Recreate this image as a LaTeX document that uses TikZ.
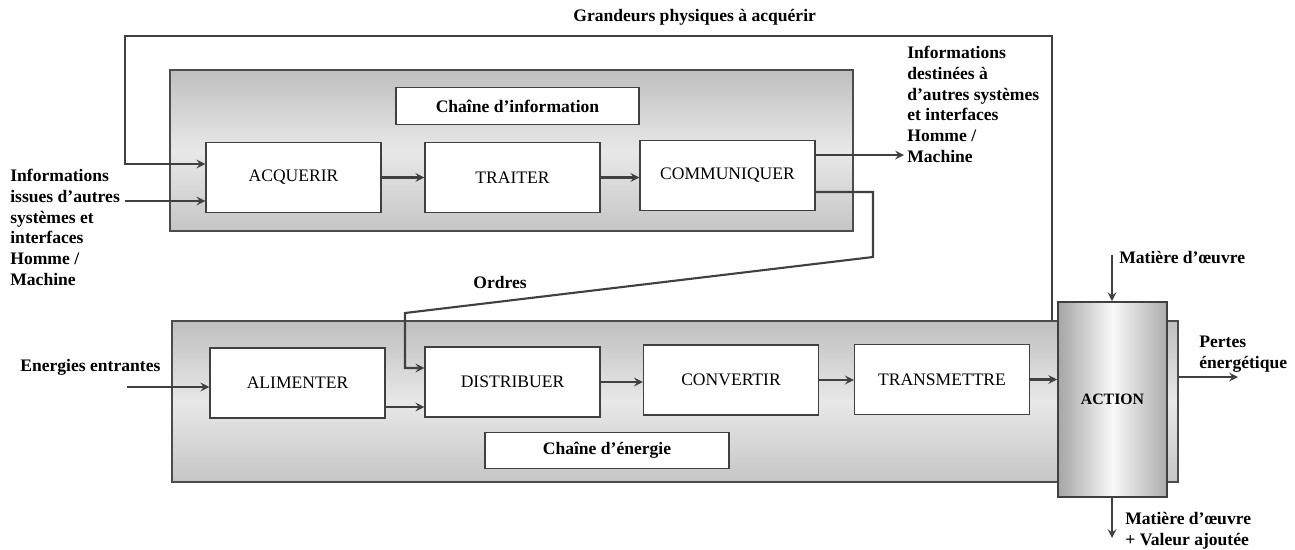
\documentclass[tikz,border=0pt]{standalone}
\usepackage{fontspec}
\setmainfont{Liberation Serif}
\usetikzlibrary{arrows,calc}

\begin{document}
\begin{tikzpicture}[> = stealth, x = 0.02cm, y = -0.02cm, font = \fontsize{10}{11.8}\selectfont]
                       \tikzstyle{chaine}=[rectangle, draw=black!70, line width=1.4pt, top color=gray!50, bottom color=gray!45, middle color=gray!18, inner sep=0pt]
                       \tikzstyle{bloc}=[rectangle, draw=black!75, line width=0.8pt, fill=white, minimum width=3.5cm, minimum height=1.4cm, inner sep=0pt]
                       \tikzstyle{titre}=[rectangle, draw=black!75, line width=0.8pt, fill=white, font=\fontsize{10}{11.8}\selectfont\bfseries, minimum height=0.74cm, inner sep=0pt]
                       \tikzstyle{texte}=[align=left, font=\fontsize{10}{11.8}\selectfont\bfseries, inner sep=0pt]
                       \tikzstyle{fleche}=[->, black!75, line width=1.2pt]

                        \useasboundingbox (0,0) rectangle (1295,549);

                        % Chaines
                        \node[chaine, minimum width=13.66cm, minimum height=3.22cm] (info) at (511.5,150.5) {};
                        \node[chaine, minimum width=20.12cm, minimum height=3.22cm] (energie) at (675,401.5) {};
                        \node[titre, minimum width=4.86cm] (tinfo) at (517.5,106) {Chaîne d’information};
                        \node[titre, minimum width=4.88cm, minimum height=0.72cm] (tenergie) at (607,450.5) {Chaîne d’énergie};

                        % Blocs
                        \node[bloc] (acq) at (293.5,177.5) {ACQUERIR};
                        \node[bloc] (trait) at (512.5,177.5) {TRAITER};
                        \node[bloc] (comm) at (727.5,175.5) {COMMUNIQUER};
                        \node[bloc] (alim) at (297.5,383) {ALIMENTER};
                        \node[bloc] (distr) at (512.5,382) {DISTRIBUER};
                        \node[bloc] (conv) at (731,380) {CONVERTIR};
                        \node[bloc] (trans) at (942,379.5) {TRANSMETTRE};
                        \node[draw=black!75, line width=1pt, left color=gray!70, right color=gray!65, middle color=gray!5, minimum width=2.18cm, minimum height=3.9cm, inner sep=0pt, font=\fontsize{9}{10}\selectfont\bfseries] (action) at (1112.5,399.5) {ACTION};

                        % Textes
                        \node[texte, anchor=west] (grand) at (573,17) {Grandeurs physiques à acquérir};
                        \node[texte, anchor=north west] (infoin) at (10,169) {Informations\\issues d’autres\\systèmes et\\interfaces\\Homme /\\Machine};
                        \node[texte, anchor=north west] (infoout) at (907,46) {Informations\\destinées à\\d’autres systèmes\\et interfaces\\Homme /\\Machine};
                        \node[texte, anchor=west] (ordres) at (473,282) {Ordres};
                        \node[texte, anchor=west] (entr) at (20,367) {Energies entrantes};
                        \node[texte, anchor=west] (mo) at (1119,257) {Matière d’œuvre};
                        \node[texte, anchor=north west] (pertes) at (1199,336) {Pertes\\énergétique};
                        \node[texte, anchor=north west] (mva) at (1125,512) {Matière d’œuvre\\+ Valeur ajoutée};

                        % Fleches
                        \coordinate (g1) at (1052,36);
                        \coordinate (g2) at (125,164);
                        \coordinate (i1) at (125,201);
                        \coordinate (s1) at (904,155);
                        \coordinate (o1) at (873,257);
                        \coordinate (o2) at (405,313);
                        \coordinate (e1) at (127,387);
                        \coordinate (m1) at (1112,255);
                        \coordinate (m2) at (1112,538);
                        \coordinate (p1) at (1238,377);
                        \draw[fleche] (energie.north -| g1) -- (g1) -| (g2) -- (g2 -| acq.west);
                        \draw[fleche] (i1) -- (i1 -| acq.west);
                        \draw[fleche] (acq.east) -- (acq.east -| trait.west);
                        \draw[fleche] (trait.east) -- (trait.east -| comm.west);
                        \draw[fleche] (comm.east |- s1) -- (s1);
                        \draw[fleche] (comm.east |- 0,192) -| (o1) -- (o2) |- ($(distr.west)+(0,-14)$);
                        \draw[fleche] (e1) -- (e1 -| alim.west);
                        \draw[fleche] (alim.east |- 0,407) -- (distr.west |- 0,407);
                        \draw[fleche] (distr.east) -- (distr.east -| conv.west);
                        \draw[fleche] (conv.east) -- (conv.east -| trans.west);
                        \draw[fleche] (trans.east) -- (trans.east -| action.west);
                        \draw[fleche] (m1) -- (m1 |- action.north);
                        \draw[fleche] (action.south -| m2) -- (m2);
                        \draw[fleche] (energie.east |- p1) -- (p1);
                  \end{tikzpicture}
\end{document}
